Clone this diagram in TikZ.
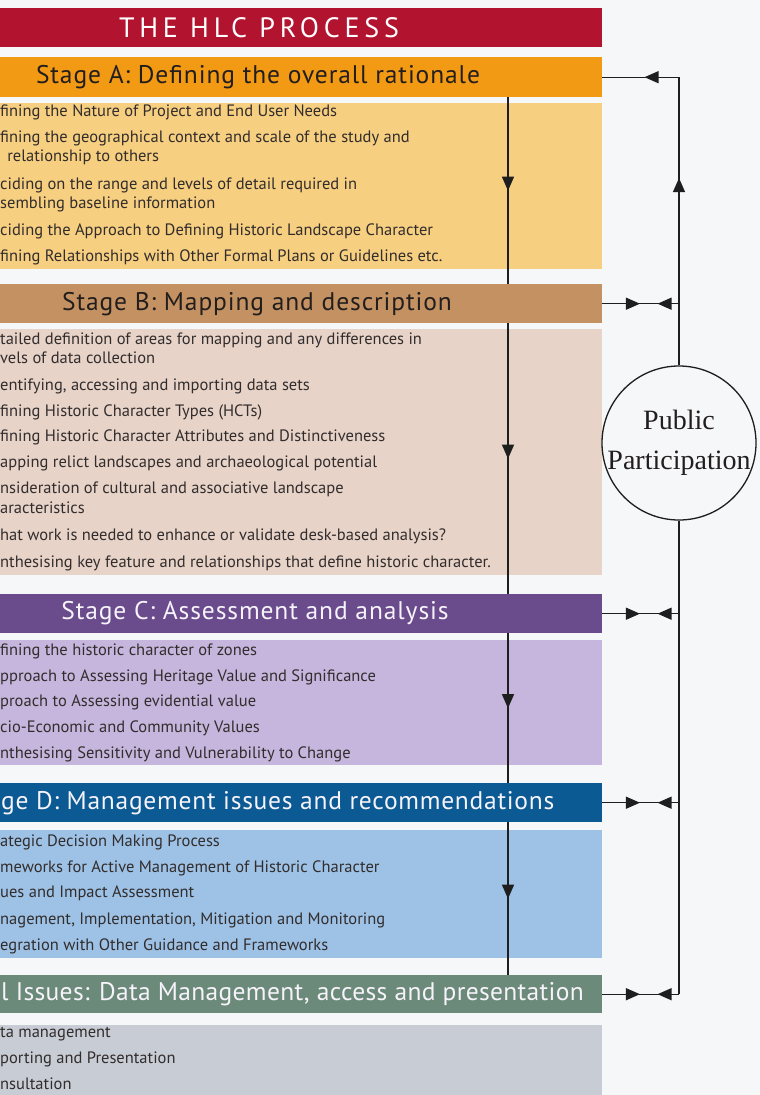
\documentclass[tikz,border=0pt]{standalone}
\usepackage{fontspec}
\setmainfont{PT Sans}
\newfontfamily\ppfont{Liberation Serif}
\usetikzlibrary{positioning,arrows.meta,decorations.markings}

\definecolor{bgwhite}{RGB}{246,247,249}
\definecolor{hlcred}{RGB}{178,20,48}
\definecolor{headA}{RGB}{243,154,20}
\definecolor{bodyA}{RGB}{247,207,128}
\definecolor{headB}{RGB}{196,146,98}
\definecolor{bodyB}{RGB}{231,211,200}
\definecolor{headC}{RGB}{106,75,140}
\definecolor{bodyC}{RGB}{198,182,221}
\definecolor{headD}{RGB}{12,90,148}
\definecolor{bodyD}{RGB}{158,194,230}
\definecolor{headE}{RGB}{108,138,122}
\definecolor{bodyE}{RGB}{200,205,213}
\definecolor{itemgrey}{RGB}{50,45,45}
\definecolor{darktext}{RGB}{35,30,30}
\definecolor{lighttext}{RGB}{246,243,250}
\definecolor{linegrey}{RGB}{30,30,30}

\tikzset{
  hlctip/.tip={Triangle[width=12pt,length=14pt]},
  bar/.style={rectangle, inner sep=0pt, anchor=north west, minimum width=602pt, minimum height=39pt},
  box/.style={rectangle, inner sep=0pt, anchor=north west, minimum width=602pt},
  headtext/.style={inner sep=0pt, font=\fontsize{25.5}{30}\selectfont\addfontfeature{LetterSpace=3.5}, text height=13pt, text depth=0pt},
  tighthead/.style={headtext, anchor=west, font=\fontsize{25.5}{30}\selectfont\addfontfeature{LetterSpace=#1}},
  item/.style={anchor=west, inner sep=0pt, font=\fontsize{16.5}{20}\selectfont, text=itemgrey, text height=8.5pt, text depth=0pt},
  link/.style={draw=linegrey, line width=1.3pt},
  flow/.style={link, postaction={decorate}, decoration={markings, mark=at position 0.5 with {\arrow{hlctip}}}},
  oneway/.style={link, postaction={decorate}, decoration={markings, mark=at position #1 with {\arrow{hlctip}}}},
  twoway/.style={link, postaction={decorate}, decoration={markings,
      mark=at position 0.49 with {\arrow{hlctip}},
      mark=at position 0.72 with {\arrowreversed{hlctip}}}}
}

\begin{document}
\begin{tikzpicture}[x=1pt,y=-1pt]
    \path[use as bounding box, fill=bgwhite] (0,0) rectangle (760,1095);
    \coordinate (fx) at (508,0);
    \coordinate (rx) at (679,0);

    % title
    \node[bar, fill=hlcred] (title) at (0,8) {};
    \node[inner sep=0pt, text=white, font=\fontsize{28}{32}\selectfont\addfontfeature{LetterSpace=17}] (titletext) at (259,28) {THE HLC PROCESS};

    % stage headers
    \node[bar, fill=headA, minimum height=40pt] (hA) at (0,57) {};
    \node[bar, fill=headB] (hB) at (0,284) {};
    \node[bar, fill=headC] (hC) at (0,594) {};
    \node[bar, fill=headD] (hD) at (0,783) {};
    \node[bar, fill=headE, minimum height=38pt] (hE) at (0,975) {};
    \node[headtext, text=darktext] (hAt) at (258,77) {Stage A: Defining the overall rationale};
    \node[headtext, text=darktext] (hBt) at (257,304) {Stage B: Mapping and description};
    \node[headtext, text=lighttext] (hCt) at (255,613) {Stage C: Assessment and analysis};
    \node[tighthead=2.9, text=lighttext] (hDt) at (1,803) {ge D: Management issues and recommendations};
    \node[tighthead=1.3, text=lighttext] (hEt) at (1,994) {l Issues: Data Management, access and presentation};

    % stage bodies
    \node[box, fill=bodyA, minimum height=166pt] (bA) at (0,103) {};
    \node[box, fill=bodyB, minimum height=246pt] (bB) at (0,329) {};
    \node[box, fill=bodyC, minimum height=125pt] (bC) at (0,640) {};
    \node[box, fill=bodyD, minimum height=128pt] (bD) at (0,830) {};
    \node[box, fill=bodyE, minimum height=70pt] (bE) at (0,1025) {};

    \foreach \ty/\tx [count=\i] in {112/fining the Nature of Project and End User Needs,
        138/fining the geographical context and scale of the study and,
        157/{\ \,relationship to others},
        185/ciding on the range and levels of detail required in,
        204/sembling baseline information,
        231/ciding the Approach to Defining Historic Landscape Character,
        257/fining Relationships with Other Formal Plans or Guidelines etc.}
        \node[item] (tA\i) at (0,\ty) {\tx};

    \foreach \ty/\tx [count=\i] in {340/tailed definition of areas for mapping and any differences in,
        359/vels of data collection,
        386/{entifying, accessing and importing data sets},
        412/fining Historic Character Types (HCTs),
        437/fining Historic Character Attributes and Distinctiveness,
        463/apping relict landscapes and archaeological potential,
        489/nsideration of cultural and associative landscape,
        509/aracteristics,
        536/hat work is needed to enhance or validate desk-based analysis?,
        563/nthesising key feature and relationships that define historic character.}
        \node[item] (tB\i) at (0,\ty) {\tx};

    \foreach \ty/\tx [count=\i] in {651/fining the historic character of zones,
        677/pproach to Assessing Heritage Value and Significance,
        702/proach to Assessing evidential value,
        728/cio-Economic and Community Values,
        754/nthesising Sensitivity and Vulnerability to Change}
        \node[item] (tC\i) at (0,\ty) {\tx};

    \foreach \ty/\tx [count=\i] in {842/ategic Decision Making Process,
        868/meworks for Active Management of Historic Character,
        893/ues and Impact Assessment,
        920/{nagement, Implementation, Mitigation and Monitoring},
        946/egration with Other Guidance and Frameworks}
        \node[item] (tD\i) at (0,\ty) {\tx};

    \foreach \ty/\tx [count=\i] in {1033/ta management,
        1059/porting and Presentation,
        1085/nsultation}
        \node[item] (tE\i) at (0,\ty) {\tx};

    % public participation
    \node[circle, draw=linegrey, line width=1.3pt, fill=bgwhite, minimum size=154pt, inner sep=0pt] (pp) at (679,443) {};
    \node[inner sep=0pt, font=\ppfont\fontsize{28}{32}\selectfont, text=darktext] (pp1) at (679,420) {Public};
    \node[inner sep=0pt, font=\ppfont\fontsize{28}{32}\selectfont, text=darktext] (pp2) at (679,463) {Participation};

    % main flow
    \draw[flow] (hA.south -| fx) -- (hB.north -| fx);
    \draw[flow] (hB.south -| fx) -- (hC.north -| fx);
    \draw[flow] (hC.south -| fx) -- (hD.north -| fx);
    \draw[flow] (hD.south -| fx) -- (hE.north -| fx);

    % feedback loop
    \coordinate (jA) at (hA.east -| rx);
    \coordinate (jB) at (hB.east -| rx);
    \coordinate (jC) at (hC.east -| rx);
    \coordinate (jD) at (hD.east -| rx);
    \coordinate (jE) at (hE.east -| rx);
    \draw[oneway=0.65] (pp.north) -- (jA);
    \draw[oneway=0.45] (jA) -- (hA.east);
    \draw[link] (pp.south) -- (jE);
    \draw[twoway] (hB.east) -- (jB);
    \draw[twoway] (hC.east) -- (jC);
    \draw[twoway] (hD.east) -- (jD);
    \draw[twoway] (hE.east) -- (jE);
\end{tikzpicture}
\end{document}
